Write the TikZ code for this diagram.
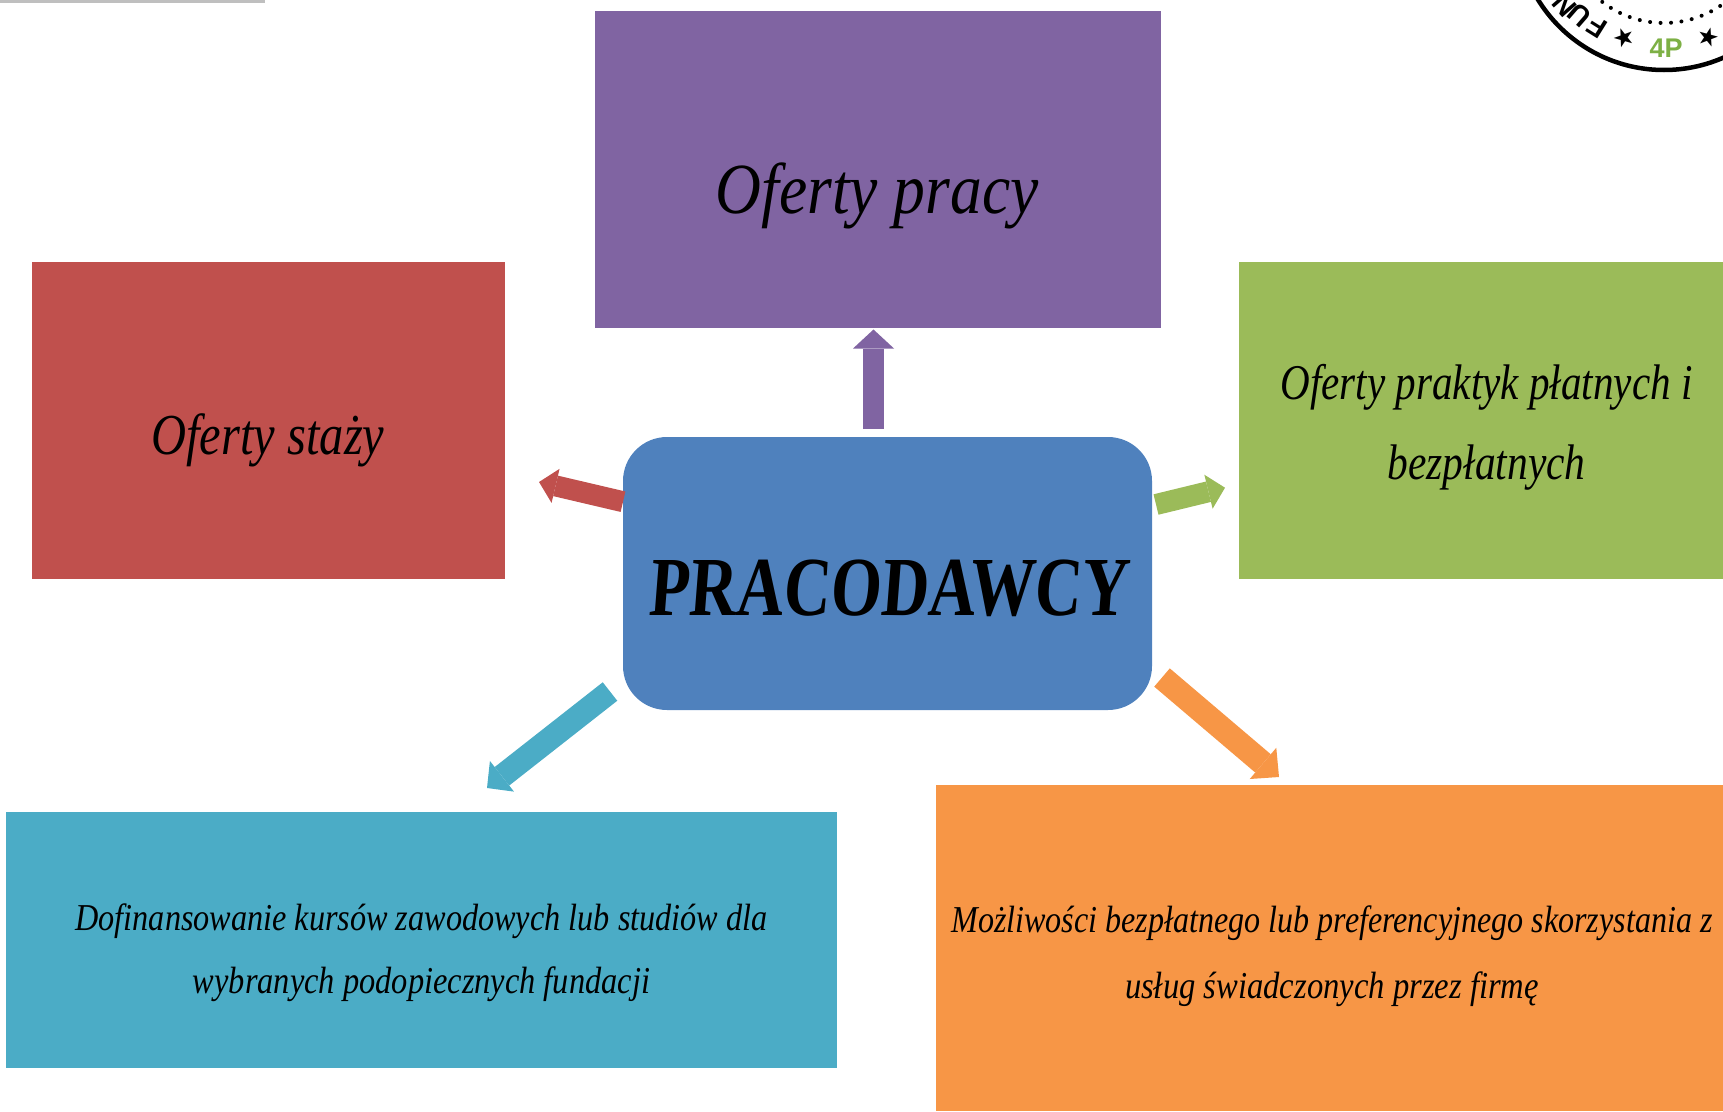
\documentclass[tikz,border=0pt]{standalone}
\usepackage{graphicx}
\usepackage{fontspec}
\setmainfont{Liberation Serif}
\newfontfamily\logofont{Liberation Sans}
\newfontfamily\symfont{DejaVu Sans}
\newfontfamily\capsfont[FakeSlant=0.1]{Liberation Serif Bold}
\usetikzlibrary{arrows.meta}
\definecolor{cpurple}{HTML}{8064A2}
\definecolor{cred}{HTML}{C0504D}
\definecolor{cgreen}{HTML}{9BBB59}
\definecolor{cblue}{HTML}{4F81BD}
\definecolor{cteal}{HTML}{4BACC6}
\definecolor{corange}{HTML}{F79646}
\definecolor{clogo}{HTML}{7DB045}
\newcommand{\fitline}[2]{\resizebox{#1pt}{\height}{#2}}
\newcommand{\sized}[2]{\fontsize{#1}{#2}\selectfont\itshape}
\tikzset{
  boxnode/.style={anchor=north west,inner sep=0pt,outer sep=0pt,draw=none},
  label/.style={inner sep=0pt,outer sep=0pt,align=center,text=black},
  blockarrow/.style n args={4}{draw=#1,line width=#2pt,
    -{Triangle[width=#3pt,length=#4pt,line width=0pt,fill=#1]}},
  logoletter/.style={inner sep=0pt,font=\logofont\bfseries\fontsize{28}{28}\selectfont,text=black},
  logostar/.style={inner sep=0pt,font=\symfont\fontsize{25}{25}\selectfont,text=black}
}
\begin{document}
\begin{tikzpicture}[x=1pt,y=-1pt]
\useasboundingbox (0,0) rectangle (1723,1111);
% faint line top left
\coordinate (lineA) at (0,1.5);
\coordinate (lineB) at (265,1.5);
\draw[color=black!25,line width=2.5pt] (lineA) -- (lineB);
% boxes
\node[boxnode,fill=cpurple,minimum width=566pt,minimum height=316.5pt] (boxPurple) at (594.5,11) {};
\node[boxnode,fill=cred,minimum width=472.5pt,minimum height=317.5pt] (boxRed) at (32,261.5) {};
\node[boxnode,fill=cgreen,minimum width=484.5pt,minimum height=317.5pt] (boxGreen) at (1238.5,261.5) {};
\node[boxnode,fill=cteal,minimum width=831.5pt,minimum height=256pt] (boxTeal) at (5.5,812) {};
\node[boxnode,fill=corange,minimum width=787pt,minimum height=326pt] (boxOrange) at (936,785) {};
\node[boxnode,fill=cblue,rounded corners=44pt,minimum width=529pt,minimum height=273pt] (center) at (623,437) {};
% arrows
\coordinate (tailPurple) at (873.5,429);
\coordinate (tipPurple) at (873.5,329.5);
\coordinate (tailRed) at (623,501.7);
\coordinate (tipRed) at (539,482);
\coordinate (tailGreen) at (1156,504.5);
\coordinate (tipGreen) at (1225,487.7);
\coordinate (tailTeal) at (610,691.5);
\coordinate (tipTeal) at (487,788);
\coordinate (tailOrange) at (1162,677.5);
\coordinate (tipOrange) at (1279,777);
\draw[blockarrow={cpurple}{21}{41}{19}] (tailPurple) -- (tipPurple);
\draw[blockarrow={cred}{21}{35}{17}] (tailRed) -- (tipRed);
\draw[blockarrow={cgreen}{21}{35}{17}] (tailGreen) -- (tipGreen);
\draw[blockarrow={cteal}{23.5}{39}{19}] (tailTeal) -- (tipTeal);
\draw[blockarrow={corange}{24}{41}{21}] (tailOrange) -- (tipOrange);
% labels
\node[label,font=\sized{72}{72}] (tPurple) at (877,196) {\fitline{323}{Oferty pracy}};
\node[label,font=\sized{58}{58}] (tRed) at (268,440) {\fitline{233}{Oferty staży}};
\node[label,font=\sized{50}{80}] (tGreen) at (1486.5,427.5) {\fitline{412}{Oferty praktyk płatnych i}\\\fitline{198}{bezpłatnych}};
\node[label,font=\capsfont\fontsize{84}{84}\selectfont] (tCenter) at (888,588) {\fitline{480}{PRACODAWCY}};
\node[label,font=\sized{38}{63}] (tTeal) at (421.5,953) {\fitline{692}{Dofinansowanie kursów zawodowych lub studiów dla}\\\fitline{457}{wybranych podopiecznych fundacji}};
\node[label,font=\sized{38}{66}] (tOrange) at (1332,956.5) {\fitline{761}{Możliwości bezpłatnego lub preferencyjnego skorzystania z}\\\fitline{414}{usług świadczonych przez firmę}};
% logo fragment
\begin{scope}
\clip (1480,0) rectangle (1723,90);
\coordinate (logoC) at (1664,-78);
\draw[black,line width=4.5pt] (logoC) circle[radius=148pt];
\draw[black,line width=4pt,line cap=round,dash pattern=on 0pt off 10.5pt] (logoC) circle[radius=101pt];
\node[logoletter,rotate=148] (logoF) at (1597,27) {F};
\node[logoletter,rotate=139] (logoU) at (1580,15) {U};
\node[logoletter,rotate=131] (logoN) at (1565,5) {N};
\node[logostar,rotate=20] (logoS1) at (1624,37) {★};
\node[logostar,rotate=-15] (logoS2) at (1709,37) {★};
\node[inner sep=0pt,font=\logofont\bfseries\fontsize{27}{27}\selectfont,text=clogo] (logo4P) at (1666,48) {4P};
\end{scope}
\end{tikzpicture}
\end{document}
